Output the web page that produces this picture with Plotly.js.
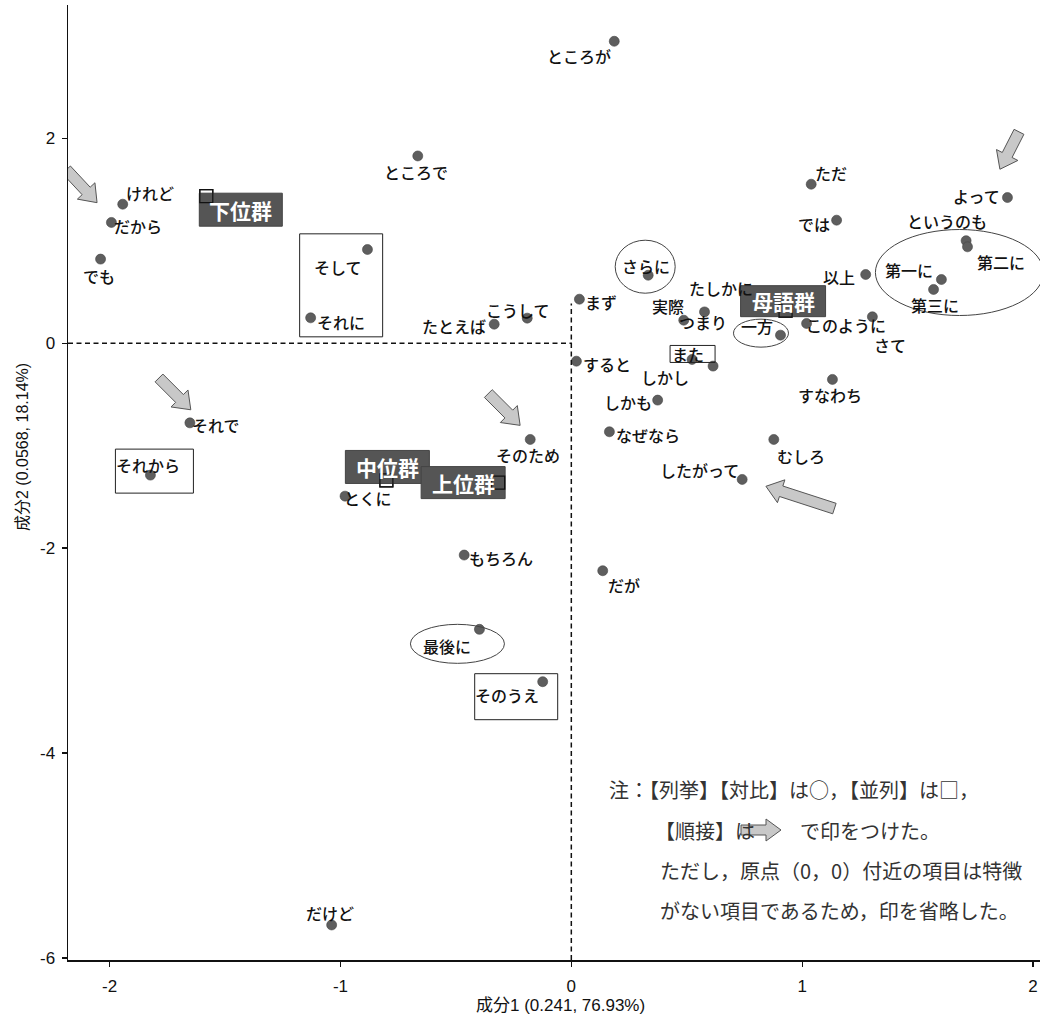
<!DOCTYPE html>
<html><head><meta charset="utf-8">
<script src="https://cdn.plot.ly/plotly-3.0.1.min.js"></script>
<style>body{margin:0;background:#fff}</style>
</head><body><div id="chart" style="width:1046px;height:1016px"></div>
<script>
// ---- data ----
const words = ['ところが','ところで','けれど','だから','でも','そして','それに','ただ','では','よって','というのも','以上','第一に','第二に','第三に','さらに','まず','たしかに','実際','つまり','一方','このように','さて','また','しかし','すると','すなわち','しかも','なぜなら','むしろ','したがって','それで','それから','とくに','そのため','こうして','たとえば','もちろん','だが','最後に','そのうえ','だけど'];
const dim1 = [0.186,-0.665,-1.943,-1.992,-2.039,-0.883,-1.129,1.039,1.149,1.889,1.710,1.275,1.603,1.716,1.569,0.333,0.035,0.820,0.577,0.487,0.906,1.019,1.304,0.523,0.614,0.022,1.131,0.374,0.165,0.877,0.740,-1.652,-1.823,-0.980,-0.178,-0.191,-0.334,-0.464,0.136,-0.398,-0.124,-1.038];
const dim2 = [2.946,1.827,1.356,1.178,0.820,0.914,0.247,1.551,1.200,1.421,1.000,0.670,0.621,0.940,0.524,0.663,0.429,0.420,0.305,0.224,0.078,0.192,0.257,-0.159,-0.224,-0.176,-0.354,-0.556,-0.865,-0.940,-1.330,-0.778,-1.288,-1.493,-0.940,0.244,0.185,-2.068,-2.221,-2.793,-3.304,-5.678];
const groups = ['下位群','中位群','上位群','母語群'];
const groupDim1 = [-1.581,-0.801,-0.317,0.928];
const groupDim2 = [1.434,-1.340,-1.361,0.317];
const xTicks = [-2,-1,0,1,2];
const yTicks = [2,0,-2,-4,-6];
const xTitle = '成分1 (0.241, 76.93%)';
const yTitle = '成分2 (0.0568, 18.14%)';
const noteLines = ['注：【列挙】【対比】は○，【並列】は□，','【順接】は','で印をつけた。','ただし，原点（0，0）付近の項目は特徴','がない項目であるため，印を省略した。'];

// ---- styling / placement (screen px offsets, y down) ----
const labelOffset = {
 'ところが':[-35,15],'ところで':[-2,16],'けれど':[27,-11],'だから':[27,4],'でも':[-2,17],'そして':[-29,18],'それに':[30,4],
 'ただ':[20,-11],'では':[-23,4],'よって':[-31,-2],'というのも':[-19,-20],'以上':[-27,3],'第一に':[-32,-10],'第二に':[33,15],'第三に':[1,16],
 'さらに':[-2,-9],'まず':[22,3],'たしかに':[-40,-12],'実際':[-37,-6],'つまり':[19,2],'一方':[-23,-9],'このように':[39,2],'さて':[18,28],
 'また':[-4,-5],'しかし':[-48,11],'すると':[31,3],'すなわち':[-2,16],'しかも':[-30,2],'なぜなら':[39,3],'むしろ':[27,17],'したがって':[-43,-9],
 'それで':[26,2],'それから':[-2,-10],'とくに':[23,2],'そのため':[-2,16],'こうして':[-9,-8],'たとえば':[-40,2],'もちろん':[37,3],'だが':[21,14],
 '最後に':[-32,17],'そのうえ':[-36,13],'だけど':[-2,-12]
};
const groupBox = { // dx0,dy0,dx1,dy1 relative to group point
 '下位群':[-7,-3,76,30],'中位群':[-41,-30,43,3],'上位群':[-77,-16,7,16],'母語群':[-45,-25,40,6]
};
const enclosures = [ // type, anchor word, dx0,dy0,dx1,dy1
 ['rect','それに',-11,-84,72,19],
 ['circle','さらに',-33,-35,27,18],
 ['circle','第一に',-66,-50,102,36],
 ['circle','一方',-47,-16,8,12],
 ['rect','また',-22,-14,23,3],
 ['rect','それから',-35,-26,43,18],
 ['circle','最後に',-69,-5,25,34],
 ['rect','そのうえ',-68,-8,15,38]
];
const arrows = [ // anchor word, dx, dy, angle(deg, screen), length
 ['けれど',-41,-18,47,45],
 ['よって',2,-47,117,42],
 ['それで',-15,-29,45,45],
 ['そのため',-26,-30,45,45],
 ['したがって',58,18,198,72]
];

function arrowPath(cx, cy, ang, L, s, h, H){
  const pts=[[-L/2,-s],[L/2-H,-s],[L/2-H,-h],[L/2,0],[L/2-H,h],[L/2-H,s],[-L/2,s]];
  const a=ang*Math.PI/180, c=Math.cos(a), sn=Math.sin(a);
  return 'M'+pts.map(p=>{const x=cx+p[0]*c-p[1]*sn; const y=cy+p[0]*sn+p[1]*c; return x.toFixed(2)+','+(-y).toFixed(2);}).join(' L')+' Z';
}
const idx = w => words.indexOf(w);

const shapes = [];
// dashed reference lines
shapes.push({type:'line',xref:'paper',yref:'y',x0:0,x1:0.5185,y0:0,y1:0,line:{color:'#111',width:1.5,dash:'5px,3.5px'}});
shapes.push({type:'line',xref:'x',yref:'paper',x0:0,x1:0,y0:0,y1:0.6875,line:{color:'#111',width:1.5,dash:'5px,3.5px'}});
// enclosures
enclosures.forEach(e=>{
  const i=idx(e[1]);
  shapes.push({type:e[0],xref:'x',yref:'y',xsizemode:'pixel',ysizemode:'pixel',xanchor:dim1[i],yanchor:dim2[i],
    x0:e[2],x1:e[4],y0:-e[3],y1:-e[5],line:{color:e[0]==='rect'?'#222':'#444',width:1}});
});
// block arrows
arrows.forEach(a=>{
  const i=idx(a[0]);
  shapes.push({type:'path',xref:'x',yref:'y',xsizemode:'pixel',ysizemode:'pixel',xanchor:dim1[i],yanchor:dim2[i],
    path:arrowPath(a[1],a[2],a[3],a[4],5.5,12,16),fillcolor:'#c8c8c8',line:{color:'#555',width:1}});
});
// group label boxes (above the points) and their square markers
groups.forEach((g,i)=>{
  const b=groupBox[g];
  shapes.push({type:'rect',layer:'above',xref:'x',yref:'y',xsizemode:'pixel',ysizemode:'pixel',xanchor:groupDim1[i],yanchor:groupDim2[i],
    x0:b[0],x1:b[2],y0:-b[1],y1:-b[3],fillcolor:'#555',line:{color:'#444',width:1}});
});
groups.forEach((g,i)=>{
  shapes.push({type:'rect',layer:'above',xref:'x',yref:'y',xsizemode:'pixel',ysizemode:'pixel',xanchor:groupDim1[i],yanchor:groupDim2[i],
    x0:-6.5,x1:6.5,y0:-6.5,y1:6.5,line:{color:'#111',width:1.2}});
});
// note arrow
shapes.push({type:'path',xref:'paper',yref:'paper',xsizemode:'pixel',ysizemode:'pixel',xanchor:(761-68)/972,yanchor:(960-830)/955,
  path:arrowPath(0,0,0,40,5,11,15),fillcolor:'#c8c8c8',line:{color:'#555',width:1}});

const annotations = [];
const lblFont = {family:'Noto Sans CJK JP, Noto Sans, sans-serif',size:16,color:'#111',weight:500};
words.forEach((w,i)=>{
  const o=labelOffset[w];
  annotations.push({x:dim1[i],y:dim2[i],xref:'x',yref:'y',text:w,showarrow:false,xshift:o[0],yshift:-o[1],xanchor:'center',yanchor:'middle',font:lblFont});
});
groups.forEach((g,i)=>{
  const b=groupBox[g];
  annotations.push({x:groupDim1[i],y:groupDim2[i],xref:'x',yref:'y',text:'<b>'+g+'</b>',showarrow:false,
    xshift:(b[0]+b[2])/2,yshift:-(b[1]+b[3])/2,xanchor:'center',yanchor:'middle',
    font:{family:'Noto Sans CJK JP, sans-serif',size:21,color:'#fff'}});
});
// axis titles
annotations.push({xref:'paper',yref:'paper',x:(560-68)/972,y:(960-1005)/955,text:xTitle,showarrow:false,xanchor:'center',yanchor:'middle',
  font:{family:'Liberation Sans Narrow, Liberation Sans, Noto Sans CJK JP',size:17,color:'#111'}});
annotations.push({xref:'paper',yref:'paper',x:(22-68)/972,y:(960-447)/955,text:yTitle,showarrow:false,textangle:-90,xanchor:'center',yanchor:'middle',
  font:{family:'Liberation Sans Narrow, Liberation Sans, Noto Sans CJK JP',size:16,color:'#111'}});
// note
const noteFont = {family:'Noto Sans CJK JP, sans-serif',size:20,color:'#333'};
const notePos = [[607,789],[653,830],[798,830],[658,870],[658,910]];
noteLines.forEach((t,k)=>{
  annotations.push({xref:'paper',yref:'paper',x:(notePos[k][0]-68)/972,y:(960-notePos[k][1])/955,text:t,showarrow:false,xanchor:'left',yanchor:'middle',font:noteFont});
});

const traces = [
 {type:'scatter',mode:'markers',x:dim1,y:dim2,text:words,hoverinfo:'text',
  marker:{symbol:'circle',size:10,color:'#5e5e5e',line:{color:'#444',width:0.6}},cliponaxis:false},
 {type:'scatter',mode:'markers',x:groupDim1,y:groupDim2,text:groups,hoverinfo:'text',
  marker:{symbol:'square-open',size:13,color:'#111',line:{width:1.2}}}
];

const axFont = {family:'Liberation Sans Narrow, Liberation Sans, Arial, sans-serif',size:17,color:'#111'};
const layout = {
  width:1046,height:1016,margin:{l:68,r:6,t:5,b:56},
  paper_bgcolor:'#fff',plot_bgcolor:'#fff',showlegend:false,
  xaxis:{range:[-2.18,2.03],tickvals:xTicks,ticktext:xTicks.map(String),showgrid:false,zeroline:false,showline:true,linecolor:'#111',linewidth:1.5,
    ticks:'outside',ticklen:5,tickwidth:1.2,tickcolor:'#111',tickfont:axFont,ticklabelstandoff:5},
  yaxis:{range:[-6.02,3.3],tickvals:yTicks,ticktext:yTicks.map(String),showgrid:false,zeroline:false,showline:true,linecolor:'#111',linewidth:1.5,
    ticks:'outside',ticklen:5,tickwidth:1.2,tickcolor:'#111',tickfont:axFont,ticklabelstandoff:3},
  shapes:shapes,annotations:annotations
};
Plotly.newPlot('chart',traces,layout,{displayModeBar:false,staticPlot:true});
</script></body></html>
